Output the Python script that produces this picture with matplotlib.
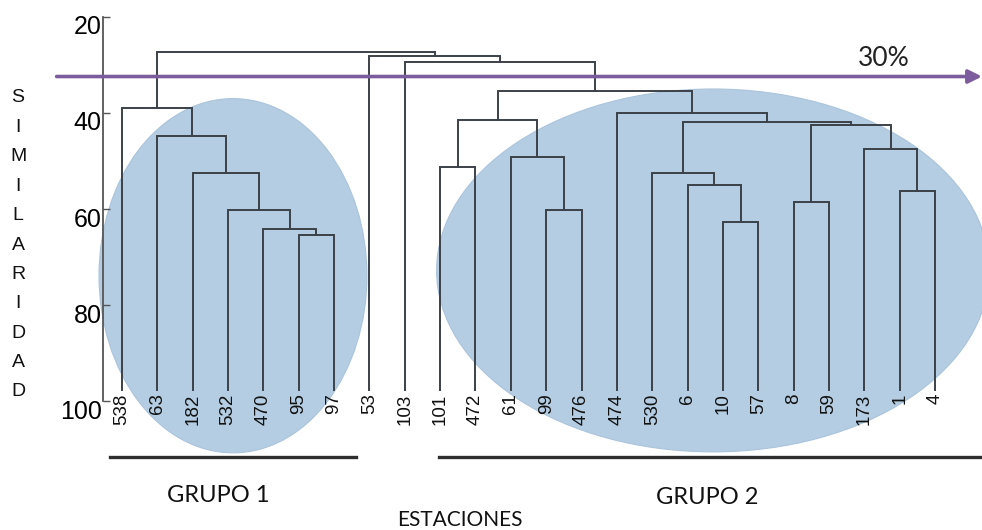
import numpy as np
import matplotlib
matplotlib.use("Agg")
import matplotlib.pyplot as plt
import matplotlib.transforms as mtransforms
from matplotlib.patches import Ellipse

# estaciones (hojas del dendrograma, en orden)
estaciones = ["538", "63", "182", "532", "470", "95", "97", "53", "103",
              "101", "472", "61", "99", "476", "474", "530", "6", "10",
              "57", "8", "59", "173", "1", "4"]

# uniones: nodo nuevo = 24, 25, ... (hijo a, hijo b, similitud %)
union_a = [5, 4, 3, 2, 1, 0, 9, 12, 11, 30, 17, 16, 15, 19, 22, 21, 37, 36, 14, 33, 8, 7, 29]
union_b = [6, 24, 25, 26, 27, 28, 10, 13, 31, 32, 18, 34, 35, 20, 23, 38, 39, 40, 41, 42, 43, 44, 45]
similitud = [65.4, 64.2, 60.2, 52.6, 44.8, 39.0, 51.2, 60.2, 49.2, 41.5, 62.7, 55.1,
             52.6, 58.5, 56.3, 47.4, 42.6, 41.9, 39.9, 35.4, 29.3, 28.1, 27.2]

corte = 32.4
yticks = [20, 40, 60, 80, 100]
ylabel = "SIMILARIDAD"

LINE = "#3b4148"
BLUE = "#b4cde2"
PURPLE = "#7d5c9e"

fig = plt.figure(figsize=(9.82, 5.30), dpi=100)
ax = fig.add_axes([103 / 982, 1 - 401 / 530, 879 / 982, 384 / 530])
ax.set_xlim(-0.5375, 24.33)
ax.set_ylim(100, 20)

# ellipses de grupos
ax.add_patch(Ellipse((3.14, 73.9), 7.58, 73.8, facecolor=BLUE, edgecolor="#aac4dc",
                     lw=0.8, zorder=1, clip_on=False))
ax.add_patch(Ellipse((16.72, 72.8), 15.64, 75.6, facecolor=BLUE, edgecolor="#aac4dc",
                     lw=0.8, zorder=1, clip_on=False))

# dendrograma
base = 97.8
px = {i: float(i) for i in range(len(estaciones))}
py = {i: base for i in range(len(estaciones))}
for k, (a, b, h) in enumerate(zip(union_a, union_b, similitud)):
    node = len(estaciones) + k
    ax.plot([px[a], px[a], px[b], px[b]], [py[a], h, h, py[b]],
            color=LINE, lw=1.4, zorder=3, solid_joinstyle="miter")
    px[node] = (px[a] + px[b]) / 2
    py[node] = h

for i, lab in enumerate(estaciones):
    ax.text(i, 98.4, lab, rotation=90, ha="center", va="top", fontsize=13.5,
            family="Liberation Sans", color="#111111", clip_on=False)

# linea de corte
ax.annotate("", xy=(24.33, corte), xytext=(-1.85, corte),
            arrowprops=dict(arrowstyle="-|>", color=PURPLE, lw=2.6,
                            mutation_scale=20, shrinkA=0, shrinkB=0),
            annotation_clip=False, zorder=4)
fig.text(884 / 982, 1 - 59 / 530, "30%", ha="center", va="center",
         fontsize=19, family="Lato", color="#222222")

# subrayado de grupos
ax.plot([-0.34, 6.62], [111.7, 111.7], color="#2e2e2e", lw=2.4, clip_on=False)
ax.plot([8.97, 24.4], [111.7, 111.7], color="#2e2e2e", lw=2.4, clip_on=False)

fig.text(218 / 982, 1 - 496 / 530, "GRUPO 1", ha="center", va="center",
         fontsize=17, family="Lato", color="#111111")
fig.text(707 / 982, 1 - 497 / 530, "GRUPO 2", ha="center", va="center",
         fontsize=17, family="Lato", color="#111111")
fig.text(460 / 982, 1 - 510 / 530, "ESTACIONES", ha="center", va="top",
         fontsize=15, family="Lato", color="#111111")

for i, ch in enumerate(ylabel):
    fig.text(18 / 982, 1 - (98 + i * 29.4) / 530, ch, ha="center", va="center",
             fontsize=14, family="Liberation Sans", color="#111111")

# ejes
for s in ["top", "right", "bottom"]:
    ax.spines[s].set_visible(False)
ax.spines["left"].set_color("#555555")
ax.spines["left"].set_linewidth(1.3)
ax.set_xticks([])
ax.set_yticks(yticks)
ax.set_yticklabels([str(t) for t in yticks])
ax.tick_params(axis="y", direction="in", length=5, width=1, color="#555555",
               pad=1, labelsize=18)
offset = mtransforms.ScaledTranslation(0, -0.08, fig.dpi_scale_trans)
for lbl in ax.get_yticklabels():
    lbl.set_family("Liberation Sans")
    lbl.set_transform(lbl.get_transform() + offset)
ax.patch.set_visible(False)

fig.savefig("out.png", dpi=100)
